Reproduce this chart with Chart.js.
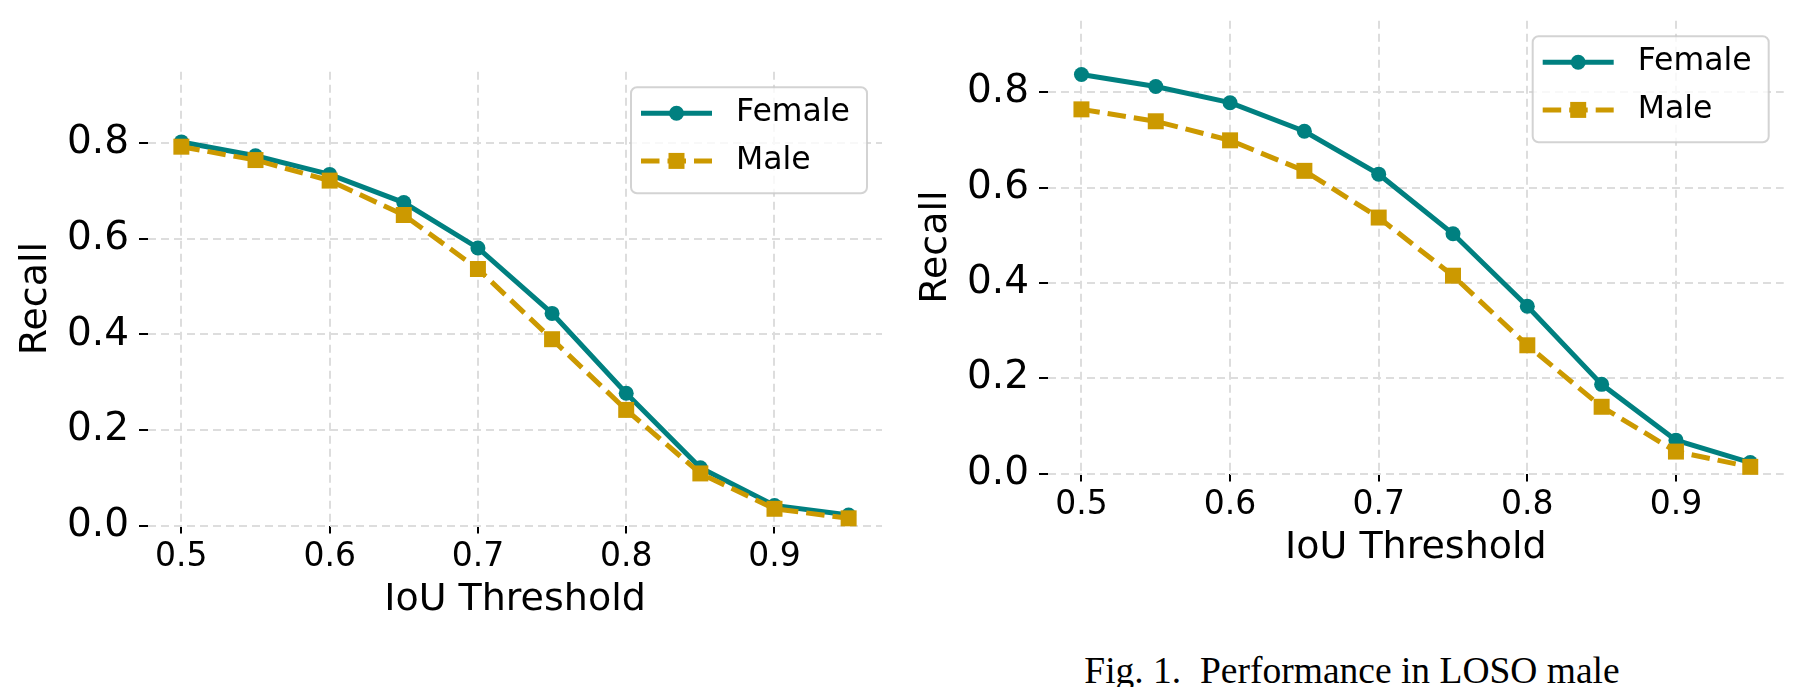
<!DOCTYPE html>
<html>
<head>
<meta charset="utf-8">
<script src="https://cdn.jsdelivr.net/npm/chart.js@4/dist/chart.umd.min.js"></script>
<style>
  html, body { margin: 0; padding: 0; background: #fff; }
  body { width: 1804px; height: 687px; position: relative; overflow: hidden; }
  .panel { position: absolute; }
  #caption {
    position: absolute; left: 1052px; top: 651px; width: 600px;
    text-align: center; white-space: pre; color: #000;
    font-family: "Liberation Serif", "Times New Roman", serif;
    font-size: 37.5px; line-height: 40px;
  }
</style>
</head>
<body>
<div class="panel" style="left:0;top:0;width:900px;height:687px"><canvas id="chartLeft"></canvas></div>
<div class="panel" style="left:900px;top:0;width:904px;height:635px"><canvas id="chartRight"></canvas></div>
<div id="caption">Fig. 1.  Performance in LOSO male</div>

<script>
// data
const iouThresholds = [0.5, 0.55, 0.6, 0.65, 0.7, 0.75, 0.8, 0.85, 0.9, 0.95];
const xTicks = [0.5, 0.6, 0.7, 0.8, 0.9];
const yTicks = [0.0, 0.2, 0.4, 0.6, 0.8];
const seriesNames = ['Female', 'Male'];

const femaleLeft  = [0.803, 0.774, 0.735, 0.676, 0.581, 0.444, 0.277, 0.121, 0.042, 0.022];
const maleLeft    = [0.793, 0.765, 0.722, 0.650, 0.537, 0.390, 0.242, 0.109, 0.035, 0.015];
const femaleRight = [0.837, 0.812, 0.778, 0.718, 0.628, 0.503, 0.351, 0.187, 0.070, 0.023];
const maleRight   = [0.764, 0.739, 0.699, 0.635, 0.537, 0.415, 0.269, 0.140, 0.046, 0.014];

const TEAL = '#008080';
const GOLD = '#cc9900';
const GRID = '#dddddd';

Chart.defaults.font.family = '"DejaVu Sans", sans-serif';
Chart.defaults.color = '#000';

// matplotlib-like framed legend in the upper right of the plot area
const boxLegend = {
  id: 'boxLegend',
  afterDraw(chart, args, opts) {
    const ctx = chart.ctx;
    const area = chart.chartArea;
    const w = 236, h = 106;
    const left = area.right - opts.right - w;
    const top = area.top + opts.top;

    ctx.save();
    ctx.beginPath();
    ctx.roundRect(left, top, w, h, 6);
    ctx.fillStyle = 'rgba(255,255,255,0.8)';
    ctx.fill();
    ctx.lineWidth = 2;
    ctx.strokeStyle = 'rgba(200,200,200,0.8)';
    ctx.stroke();

    chart.data.datasets.forEach((ds, i) => {
      const y = top + 26 + i * 47.7;
      ctx.strokeStyle = ds.borderColor;
      ctx.lineWidth = ds.borderWidth;
      ctx.setLineDash(ds.borderDash || []);
      ctx.beginPath();
      ctx.moveTo(left + 10, y);
      ctx.lineTo(left + 81, y);
      ctx.stroke();
      ctx.setLineDash([]);

      ctx.fillStyle = ds.pointBackgroundColor;
      const mx = left + 45.5;
      if (ds.pointStyle === 'rect') {
        const half = ds.pointRadius * Math.SQRT1_2;
        ctx.fillRect(mx - half, y - half, half * 2, half * 2);
      } else {
        ctx.beginPath();
        ctx.arc(mx, y, ds.pointRadius, 0, Math.PI * 2);
        ctx.fill();
      }

      ctx.fillStyle = '#000';
      ctx.font = '31.5px "DejaVu Sans", sans-serif';
      ctx.textBaseline = 'middle';
      ctx.textAlign = 'left';
      ctx.fillText(ds.label, left + 105, y);
    });
    ctx.restore();
  }
};

function makeRecallChart(canvasId, female, male, pad) {
  const canvas = document.getElementById(canvasId);
  if (!canvas) {
    console.error('Canvas ' + canvasId + ' not found');
    return;
  }
  const ctx = canvas.getContext('2d');
  new Chart(ctx, {
    type: 'line',
    data: {
      datasets: [
        {
          label: seriesNames[0],
          data: iouThresholds.map((x, i) => ({ x: x, y: female[i] })),
          borderColor: TEAL,
          backgroundColor: TEAL,
          borderWidth: 5,
          pointStyle: 'circle',
          pointRadius: 7.5,
          pointBackgroundColor: TEAL,
          pointBorderWidth: 0,
          order: 2,
          clip: false
        },
        {
          label: seriesNames[1],
          data: iouThresholds.map((x, i) => ({ x: x, y: male[i] })),
          borderColor: GOLD,
          backgroundColor: GOLD,
          borderWidth: 5,
          borderDash: [18.5, 8],
          pointStyle: 'rect',
          pointRadius: 11.3,
          pointBackgroundColor: GOLD,
          pointBorderWidth: 0,
          order: 1,
          clip: false
        }
      ]
    },
    options: {
      responsive: true,
      maintainAspectRatio: false,
      animation: false,
      devicePixelRatio: 1,
      layout: { padding: { top: pad.top, right: pad.right, left: 0, bottom: 0 } },
      plugins: {
        legend: { display: false },
        tooltip: { enabled: false },
        boxLegend: { right: 15, top: 15.5 }
      },
      scales: {
        x: {
          type: 'linear',
          position: 'bottom',
          min: 0.4775,
          max: 0.9725,
          afterBuildTicks: s => { s.ticks = xTicks.map(v => ({ value: v })); },
          afterFit: s => { s.height = 161.5; s.paddingLeft = 0; s.paddingRight = 0; },
          grid: { color: GRID, lineWidth: 2, tickColor: '#000', tickWidth: 2, tickLength: 8 },
          border: { display: false, dash: [8, 5] },
          ticks: { font: { size: 33 }, padding: 4, maxRotation: 0, autoSkip: false,
                   callback: v => v.toFixed(1) },
          title: { display: true, text: 'IoU Threshold', font: { size: 38 },
                   padding: { top: 0, bottom: 64 } }
        },
        y: {
          min: 0,
          max: 0.95,
          afterBuildTicks: s => { s.ticks = yTicks.map(v => ({ value: v })); },
          afterFit: s => { s.width = 148; s.paddingTop = 0; s.paddingBottom = 0; },
          grid: { color: GRID, lineWidth: 2, tickColor: '#000', tickWidth: 2, tickLength: 9 },
          border: { display: false, dash: [8, 5] },
          ticks: { font: { size: 39 }, padding: 10, autoSkip: false,
                   callback: v => v.toFixed(1) },
          title: { display: true, text: 'Recall', font: { size: 38 },
                   padding: { top: 13, bottom: 0 } }
        }
      }
    },
    plugins: [boxLegend]
  });
}

makeRecallChart('chartLeft', femaleLeft, maleLeft, { top: 71.7, right: 18 });
makeRecallChart('chartRight', femaleRight, maleRight, { top: 20.7, right: 20.3 });
</script>
</body>
</html>
